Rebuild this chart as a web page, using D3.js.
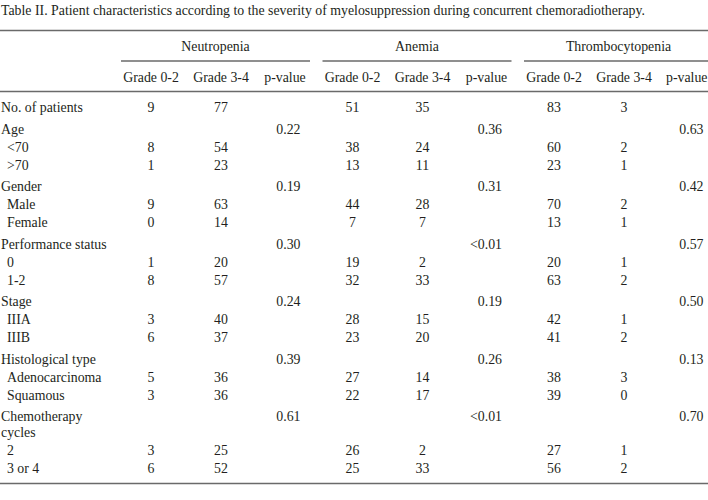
<!DOCTYPE html>
<html>
<head>
<meta charset="utf-8">
<script src="https://cdn.jsdelivr.net/npm/d3@7"></script>
<style>
  html, body { margin: 0; padding: 0; background: #fff; }
  svg { display: block; }
  text { font-family: "Liberation Serif", "DejaVu Serif", serif; fill: #231f20; }
</style>
</head>
<body>
<svg id="chart" width="708" height="500"></svg>
<script>
// ---- data ----
const title = "Table II. Patient characteristics according to the severity of myelosuppression during concurrent chemoradiotherapy.";
const groups = ["Neutropenia", "Anemia", "Thrombocytopenia"];
const subColumns = ["Grade 0-2", "Grade 3-4", "p-value"];
const rowLabels = ["No. of patients", "Age", "<70", ">70", "Gender", "Male", "Female",
  "Performance status", "0", "1-2", "Stage", "IIIA", "IIIB", "Histological type",
  "Adenocarcinoma", "Squamous", "Chemotherapy|cycles", "2", "3 or 4"];
const rowIsSection = [true, true, false, false, true, false, false, true, false, false,
  true, false, false, true, false, false, true, false, false];
const neutropeniaG02 = [9, null, 8, 1, null, 9, 0, null, 1, 8, null, 3, 6, null, 5, 3, null, 3, 6];
const neutropeniaG34 = [77, null, 54, 23, null, 63, 14, null, 20, 57, null, 40, 37, null, 36, 36, null, 25, 52];
const neutropeniaP = [null, "0.22", null, null, "0.19", null, null, "0.30", null, null, "0.24", null, null, "0.39", null, null, "0.61", null, null];
const anemiaG02 = [51, null, 38, 13, null, 44, 7, null, 19, 32, null, 28, 23, null, 27, 22, null, 26, 25];
const anemiaG34 = [35, null, 24, 11, null, 28, 7, null, 2, 33, null, 15, 20, null, 14, 17, null, 2, 33];
const anemiaP = [null, "0.36", null, null, "0.31", null, null, "<0.01", null, null, "0.19", null, null, "0.26", null, null, "<0.01", null, null];
const thromboG02 = [83, null, 60, 23, null, 70, 13, null, 20, 63, null, 42, 41, null, 38, 39, null, 27, 56];
const thromboG34 = [3, null, 2, 1, null, 2, 1, null, 1, 2, null, 1, 2, null, 3, 0, null, 1, 2];
const thromboP = [null, "0.63", null, null, "0.42", null, null, "0.57", null, null, "0.50", null, null, "0.13", null, null, "0.70", null, null];

const table = [
  [neutropeniaG02, neutropeniaG34, neutropeniaP],
  [anemiaG02, anemiaG34, anemiaP],
  [thromboG02, thromboG34, thromboP]
];

// ---- layout ----
const svg = d3.select("#chart");
const W = 708;
const ruleColor = "#6a6a6a";

// title, fitted to width
const titleText = svg.append("text").attr("x", 1).attr("y", 15).attr("font-size", 13).text(title);
const tl = titleText.node().getComputedTextLength();
const fs = 13 * 645 / tl;
titleText.attr("font-size", fs);

const groupX = d3.scaleLinear().domain([0, 1]).range([121, 322.5]);
const groupWidth = 189;
const colOffset = d3.scaleOrdinal().domain(subColumns).range([30, 100, 164]);
const pRight = 179.5;

// row baselines
const rowY = [];
let y = 112;
rowLabels.forEach((lab, i) => {
  if (i > 0) {
    const prevTwoLine = rowLabels[i - 1].includes("|");
    y += rowIsSection[i] ? 21.5 : 18;
    if (prevTwoLine) y += 16;
  }
  rowY.push(y);
});

function hline(y0, x0, x1) {
  svg.append("line").attr("x1", x0).attr("x2", x1).attr("y1", y0).attr("y2", y0)
    .attr("stroke", ruleColor).attr("stroke-width", 1.3);
}
hline(30.5, 0, W);
hline(91.5, 0, W);
hline(483.5, 0, W);

// group headers
groups.forEach((g, gi) => {
  const gx = groupX(gi);
  svg.append("text").attr("x", gx + groupWidth / 2).attr("y", 50.5)
    .attr("text-anchor", "middle").attr("font-size", fs).text(g);
  hline(61, gx, gx + groupWidth);
  subColumns.forEach(c => {
    const t = svg.append("text").attr("x", gx + colOffset(c)).attr("y", 81.5)
      .attr("text-anchor", "middle").attr("font-size", fs).text(c);
    const half = t.node().getComputedTextLength() / 2;
    if (gx + colOffset(c) + half > W - 0.5) {
      t.attr("text-anchor", "end").attr("x", W - 0.5);
    }
  });
});

// row labels
rowLabels.forEach((lab, i) => {
  const t = svg.append("text").attr("x", rowIsSection[i] ? 1 : 7).attr("y", rowY[i]).attr("font-size", fs);
  lab.split("|").forEach((part, k) => {
    t.append("tspan").attr("x", rowIsSection[i] ? 1 : 7).attr("dy", k === 0 ? 0 : 16).text(part);
  });
});

// cells
table.forEach((cols, gi) => {
  const gx = groupX(gi);
  cols.forEach((vals, ci) => {
    const isP = ci === 2;
    svg.selectAll(null).data(vals.map((v, i) => ({ v, i })).filter(d => d.v !== null))
      .enter().append("text")
      .attr("x", isP ? gx + pRight : gx + colOffset(subColumns[ci]))
      .attr("y", d => rowY[d.i])
      .attr("text-anchor", isP ? "end" : "middle")
      .attr("font-size", fs)
      .text(d => d.v);
  });
});
</script>
</body>
</html>
